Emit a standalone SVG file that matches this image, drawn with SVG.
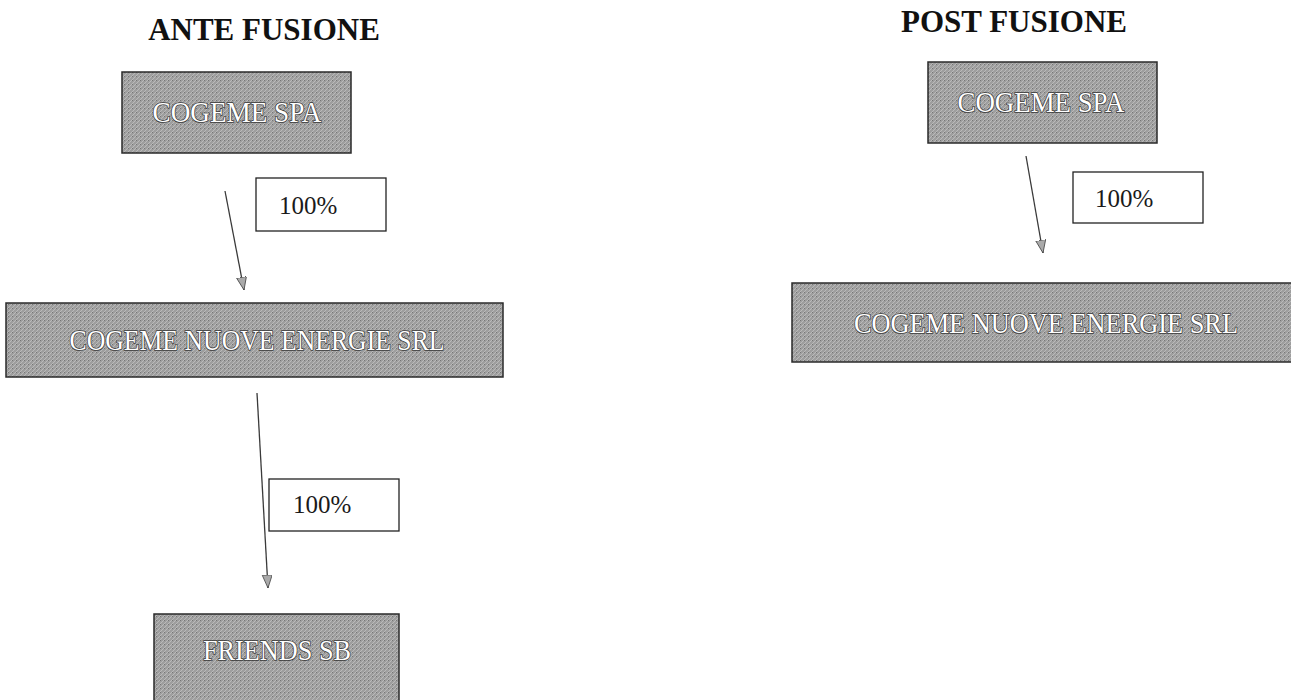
<svg xmlns="http://www.w3.org/2000/svg" width="1291" height="700" viewBox="0 0 1291 700">
<style>
.title{font-family:"Liberation Serif","Times New Roman",serif;font-weight:bold;font-size:31px;fill:#111;text-anchor:middle}
.box{fill:url(#dither);stroke:#2a2a2a;stroke-width:1.5}
.boxt{font-family:"Liberation Serif","Times New Roman",serif;font-size:29px;fill:#fff;stroke:#3a3a3a;stroke-width:1.6;paint-order:stroke;text-anchor:middle}
.lab{fill:#fff;stroke:#222;stroke-width:1.3}
.labt{font-family:"Liberation Serif","Times New Roman",serif;font-size:25px;fill:#1a1a1a}
.conn{stroke:#3a3a3a;stroke-width:1.3;fill:none;marker-end:url(#ah)}
</style>
<defs>
<pattern id="dither" width="4" height="4" patternUnits="userSpaceOnUse">
<rect width="4" height="4" fill="#9e9e9e"/>
<path d="M0,4 L4,0" stroke="#c2c2c2" stroke-width="0.8"/>
<rect x="0" y="0" width="1" height="1" fill="#767676"/>
</pattern>
<marker id="ah" markerUnits="userSpaceOnUse" markerWidth="14" markerHeight="14" refX="13" refY="5" orient="auto">
<path d="M0,0 L13,5 L0,10 Z" fill="#aaaaaa" stroke="#444" stroke-width="0.8"/>
</marker>
</defs>
<rect width="1291" height="700" fill="#fff"/>
<text class="title" x="264" y="40">ANTE FUSIONE</text>
<text class="title" x="1014" y="32">POST FUSIONE</text>
<g id="connectors">
<line class="conn" x1="225" y1="191" x2="244" y2="290"/>
<line class="conn" x1="257" y1="393" x2="268" y2="588"/>
<line class="conn" x1="1026" y1="156" x2="1043" y2="253"/>
</g>
<g id="ante-cogeme-spa">
<rect class="box" x="122" y="72" width="229" height="81"/>
<text class="boxt" x="237" y="122" textLength="169" lengthAdjust="spacingAndGlyphs">COGEME SPA</text>
</g>
<g id="ante-label-1">
<rect class="lab" x="256" y="178" width="130" height="53"/>
<text class="labt" x="279" y="214">100%</text>
</g>
<g id="ante-cogeme-nuove-energie">
<rect class="box" x="6" y="303" width="497" height="74"/>
<text class="boxt" x="257" y="350" textLength="375" lengthAdjust="spacingAndGlyphs">COGEME NUOVE ENERGIE SRL</text>
</g>
<g id="ante-label-2">
<rect class="lab" x="269" y="479" width="130" height="52"/>
<text class="labt" x="293" y="513">100%</text>
</g>
<g id="ante-friends-sb">
<rect class="box" x="154" y="614" width="245" height="92"/>
<text class="boxt" x="277" y="660" textLength="148" lengthAdjust="spacingAndGlyphs">FRIENDS SB</text>
</g>
<g id="post-cogeme-spa">
<rect class="box" x="928" y="62" width="229" height="81"/>
<text class="boxt" x="1041" y="112" textLength="167" lengthAdjust="spacingAndGlyphs">COGEME SPA</text>
</g>
<g id="post-label">
<rect class="lab" x="1073" y="172" width="130" height="51"/>
<text class="labt" x="1095" y="207">100%</text>
</g>
<g id="post-cogeme-nuove-energie">
<rect class="box" x="792" y="283" width="510" height="79"/>
<text class="boxt" x="1046" y="333" textLength="384" lengthAdjust="spacingAndGlyphs">COGEME NUOVE ENERGIE SRL</text>
</g>
</svg>
